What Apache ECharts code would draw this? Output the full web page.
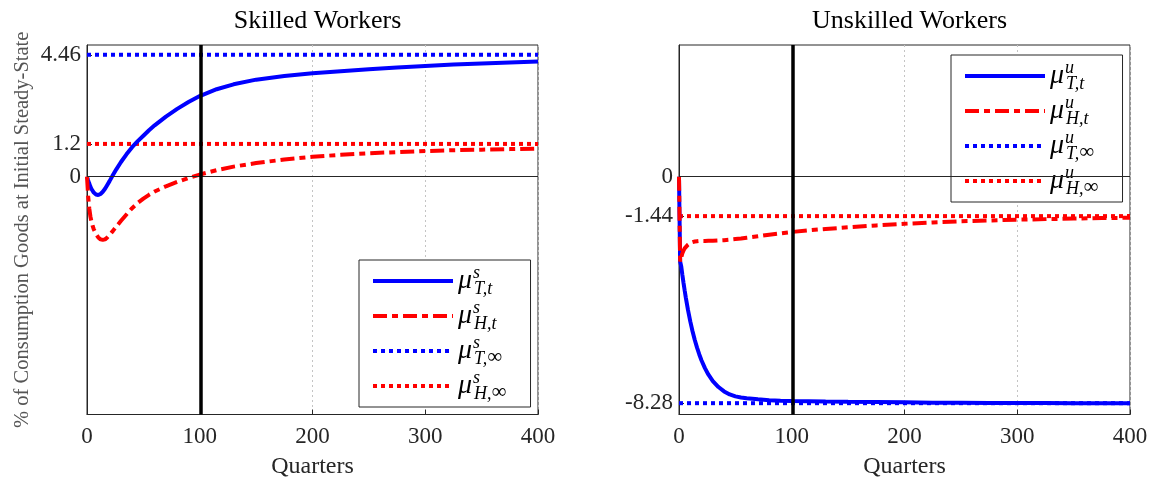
<!DOCTYPE html>
<html><head><meta charset="utf-8">
<script src="https://cdn.jsdelivr.net/npm/echarts@6/dist/echarts.min.js"></script>
<style>html,body{margin:0;padding:0;background:#fff}#c{width:1153px;height:484px}</style>
</head><body><div id="c"></div>
<script>
// ---- data ----
const quarters = [0,1,2,3,4,5,6,8,10,12,14,16,18,20,23,26,30,35,40,45,50,55,60,70,80,90,100,115,130,150,175,200,225,250,275,300,325,350,375,400];
const skilledT = [0,-0.13,-0.25,-0.36,-0.45,-0.52,-0.58,-0.65,-0.67,-0.63,-0.55,-0.44,-0.3,-0.16,0.06,0.27,0.53,0.82,1.08,1.3,1.5,1.7,1.88,2.2,2.48,2.73,2.95,3.2,3.38,3.55,3.68,3.78,3.86,3.93,3.99,4.05,4.1,4.14,4.18,4.21];
const skilledH = [0,-0.7,-1.15,-1.45,-1.65,-1.8,-1.92,-2.1,-2.22,-2.29,-2.31,-2.29,-2.22,-2.13,-1.98,-1.82,-1.62,-1.38,-1.15,-0.96,-0.8,-0.66,-0.54,-0.35,-0.19,-0.05,0.08,0.24,0.37,0.5,0.63,0.73,0.8,0.86,0.9,0.94,0.97,0.99,1.01,1.03];
const unskilledT = [0,-3.1,-3.28,-3.59,-3.88,-4.15,-4.41,-4.88,-5.29,-5.65,-5.97,-6.25,-6.5,-6.72,-7.0,-7.23,-7.47,-7.69,-7.85,-7.96,-8.03,-8.07,-8.1,-8.14,-8.17,-8.19,-8.2,-8.21,-8.22,-8.23,-8.24,-8.25,-8.26,-8.26,-8.27,-8.27,-8.27,-8.28,-8.28,-8.28];
const unskilledH = [0,-3.1,-2.95,-2.8,-2.7,-2.62,-2.56,-2.48,-2.42,-2.39,-2.37,-2.36,-2.35,-2.35,-2.35,-2.34,-2.34,-2.33,-2.32,-2.3,-2.28,-2.26,-2.23,-2.18,-2.12,-2.07,-2.02,-1.96,-1.91,-1.85,-1.78,-1.72,-1.67,-1.63,-1.6,-1.57,-1.55,-1.53,-1.51,-1.5];
const skilledTinf = 4.46, skilledHinf = 1.2;
const unskilledTinf = -8.28, unskilledHinf = -1.44;
const skilledTicks = [0, 1.2, 4.46];
const unskilledTicks = [-8.28, -1.44, 0];
const xRange = [0, 400];
const policyQuarter = 101;
const titles = ['Skilled Workers', 'Unskilled Workers'];
const yName = '% of Consumption Goods at Initial Steady-State';
const xName = 'Quarters';

// ---- build ----
const pairs = (xs, ys) => xs.map((x, i) => [x, ys[i]]);
const flat = v => [[xRange[0], v], [xRange[1], v]];
const FONT = 'Liberation Serif';
const BLUE = '#0000ff', RED = '#ff0000';
const legendLabels = {
  sTt: '{mu|μ}{sup|s}{sub|T,t}', sHt: '{mu|μ}{sup|s}{sub|H,t}',
  sTi: '{mu|μ}{sup|s}{sub|T,}{inf|∞}', sHi: '{mu|μ}{sup|s}{sub|H,}{inf|∞}',
  uTt: '{mu|μ}{sup|u}{sub|T,t}', uHt: '{mu|μ}{sup|u}{sub|H,t}',
  uTi: '{mu|μ}{sup|u}{sub|T,}{inf|∞}', uHi: '{mu|μ}{sup|u}{sub|H,}{inf|∞}'
};
const rich = {
  mu: {fontFamily: FONT, fontStyle: 'italic', fontSize: 28, lineHeight: 34, color: '#000', padding: [0, 1, 0, 0]},
  sup: {fontFamily: FONT, fontStyle: 'italic', fontSize: 18, lineHeight: 15, width: 1, verticalAlign: 'top', color: '#000'},
  sub: {fontFamily: FONT, fontStyle: 'italic', fontSize: 18, lineHeight: 15, verticalAlign: 'bottom', color: '#000'},
  inf: {fontFamily: FONT, fontSize: 21, lineHeight: 15, verticalAlign: 'bottom', color: '#000'}
};
const grids = [
  {left: 87, top: 45, width: 451, height: 369.5, show: true, borderColor: '#262626', borderWidth: 1, backgroundColor: 'transparent'},
  {left: 679, top: 45, width: 451, height: 369.5, show: true, borderColor: '#262626', borderWidth: 1, backgroundColor: 'transparent'}
];
const xAxes = [0, 1].map(i => ({
  type: 'value', gridIndex: i, min: xRange[0], max: xRange[1], interval: 100,
  name: xName, nameLocation: 'middle', nameGap: 40,
  nameTextStyle: {fontFamily: FONT, fontSize: 24, color: '#262626'},
  axisLine: {show: true, onZero: false, lineStyle: {color: '#262626'}},
  axisTick: {show: true, inside: true, length: 5, lineStyle: {color: '#262626'}},
  axisLabel: {fontFamily: FONT, fontSize: 23, color: '#262626', margin: 11},
  splitLine: {show: true, lineStyle: {color: '#c4c4c4', width: 1, type: [2, 3]}}
}));
const yAxes = [skilledTicks, unskilledTicks].map((ticks, i) => ({
  type: 'value', gridIndex: i, min: -8.694, max: 4.817,
  name: i === 0 ? yName : '', nameLocation: 'middle', nameGap: 54,
  nameTextStyle: {fontFamily: FONT, fontSize: 20.5, color: '#555'},
  axisLine: {show: true, onZero: false, lineStyle: {color: '#262626'}},
  axisTick: {show: true, inside: true, length: 5, customValues: ticks, lineStyle: {color: '#262626'}},
  axisLabel: {fontFamily: FONT, fontSize: 23, color: '#262626', margin: 6, customValues: ticks},
  splitLine: {show: false}
}));
function lineSeries(name, gi, data, color, type, width) {
  return {name, type: 'line', xAxisIndex: gi, yAxisIndex: gi, data, symbol: 'none', showSymbol: false,
    lineStyle: {color, width, type, cap: 'butt'}, itemStyle: {color}, silent: true, animation: false};
}
const DASHDOT = [14, 5, 6, 5];
const DOT = [4, 4];
const series = [];
[[skilledT, skilledH, skilledTinf, skilledHinf, 's'], [unskilledT, unskilledH, unskilledTinf, unskilledHinf, 'u']].forEach((g, gi) => {
  const p = g[4];
  const sTi = lineSeries(p + 'Ti', gi, flat(g[2]), BLUE, DOT, 4);
  sTi.markLine = {silent: true, symbol: 'none', label: {show: false}, animation: false,
    data: [{yAxis: 0, lineStyle: {color: '#262626', width: 1, type: 'solid'}}]};
  series.push(sTi);
  series.push(lineSeries(p + 'Hi', gi, flat(g[3]), RED, DOT, 4));
  series.push(lineSeries(p + 'Tt', gi, pairs(quarters, g[0]), BLUE, 'solid', 4));
  const sHt = lineSeries(p + 'Ht', gi, pairs(quarters, g[1]), RED, DASHDOT, 4);
  sHt.markLine = {silent: true, symbol: 'none', label: {show: false}, animation: false,
    data: [{xAxis: policyQuarter, lineStyle: {color: '#000', width: 3.5, type: 'solid'}}]};
  series.push(sHt);
});
const legendBase = {
  orient: 'vertical', itemWidth: 80, itemHeight: 14, itemGap: 1, padding: [4, 24, 4, 12],
  borderColor: '#262626', borderWidth: 1, backgroundColor: '#fff', selectedMode: false,
  itemStyle: {opacity: 0}, lineStyle: {width: 4},
  formatter: n => legendLabels[n], textStyle: {rich}
};
const option = {
  animation: false,
  title: titles.map((t, i) => ({text: t, left: grids[i].left + grids[i].width / 2, top: 3, textAlign: 'center',
    textStyle: {fontFamily: FONT, fontSize: 26, fontWeight: 'normal', color: '#000'}})),
  grid: grids, xAxis: xAxes, yAxis: yAxes,
  legend: [
    Object.assign({}, legendBase, {data: ['sTt', 'sHt', 'sTi', 'sHi'], left: 359, top: 260}),
    Object.assign({}, legendBase, {data: ['uTt', 'uHt', 'uTi', 'uHi'], left: 951, top: 55})
  ],
  series
};
const chart = echarts.init(document.getElementById('c'), null, {renderer: 'canvas'});
chart.setOption(option);
</script></body></html>
